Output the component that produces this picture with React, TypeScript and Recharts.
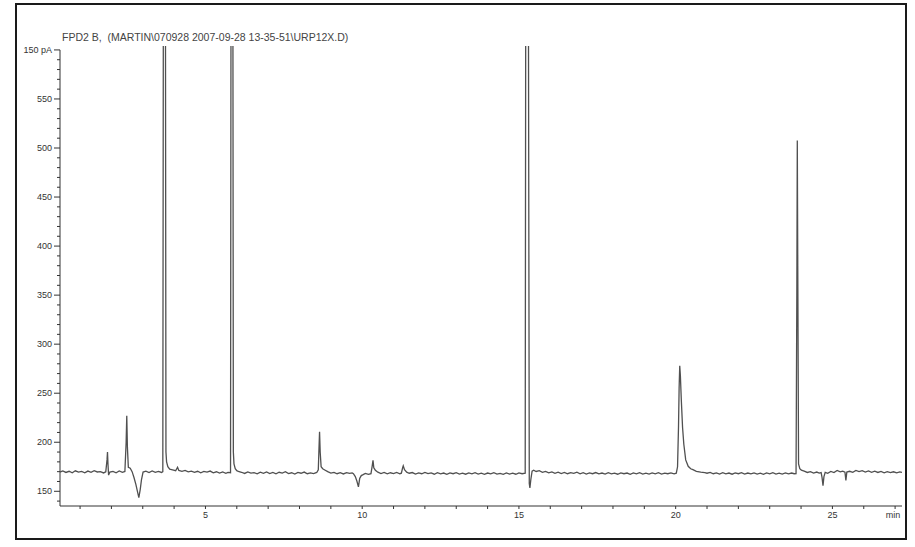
import { LineChart, Line, XAxis, YAxis, ReferenceLine } from 'recharts';

// retention time (min), signal (pA), one array per stretch of the run
const traceStart: [number, number][] = [
  [0.36, 169.6], [0.45, 170.8], [0.55, 169.2], [0.65, 170.4], [0.75, 168.9], [0.85, 170.9],
  [0.95, 169.5], [1.05, 170.2], [1.15, 168.8], [1.25, 170.6], [1.35, 169.3], [1.45, 171.0],
  [1.55, 169.7], [1.65, 170.1], [1.75, 168.7], [1.82, 169.9], [1.86, 182], [1.875, 190],
  [1.89, 178], [1.91, 166.5], [1.95, 169.5], [2.05, 170.3], [2.15, 168.9], [2.25, 170.7],
  [2.35, 169.4], [2.43, 170.2], [2.47, 200], [2.49, 227], [2.51, 195], [2.54, 174.5],
  [2.6, 173.5], [2.66, 170], [2.72, 164], [2.78, 157], [2.83, 150], [2.875, 143.5],
  [2.92, 152], [2.96, 162], [3.01, 169.6], [3.1, 170.5], [3.2, 169.1], [3.3, 170.8],
  [3.4, 169.4], [3.5, 170.3], [3.6, 169.2],
];

// first off-scale peak and its tail
const traceFirstMax: [number, number][] = [
  [3.64, 170], [3.69, 1600], [3.74, 190], [3.76, 180], [3.8, 175], [3.86, 172.5],
  [3.95, 171.8], [4.05, 171], [4.11, 174.5], [4.15, 171.2], [4.25, 170.4], [4.35, 171.3],
  [4.45, 169.8], [4.55, 170.6], [4.65, 169.3], [4.75, 170.4], [4.85, 168.9], [4.95, 170.2],
  [5.05, 169.5], [5.15, 170.6], [5.25, 168.8], [5.35, 169.9], [5.45, 168.5], [5.55, 169.7],
  [5.65, 168.4], [5.72, 169.3], [5.8, 169],
];

// second off-scale peak, 8.6 peak, 9.9 dip, small peaks at 10.3 and 11.3
const traceMiddle: [number, number][] = [
  [5.845, 1600], [5.89, 190], [5.91, 178], [5.95, 173], [6.0, 171], [6.05, 170.2],
  [6.15, 169.4], [6.25, 168.2], [6.35, 169.8], [6.45, 168.5], [6.55, 169.1], [6.65, 167.8],
  [6.75, 169.5], [6.85, 168.3], [6.95, 169.7], [7.05, 168.1], [7.15, 169.2], [7.25, 167.9],
  [7.35, 169.4], [7.45, 168.6], [7.55, 169.9], [7.65, 168.0], [7.75, 168.9], [7.85, 167.6],
  [7.95, 169.3], [8.05, 168.4], [8.15, 169.6], [8.25, 167.9], [8.35, 168.8], [8.45, 168.1],
  [8.55, 169.2], [8.6, 172], [8.62, 192], [8.64, 210.6], [8.66, 190], [8.69, 175],
  [8.74, 173], [8.82, 171.5], [8.9, 170], [9.0, 168.6], [9.1, 169.3], [9.2, 167.9],
  [9.3, 168.9], [9.4, 167.7], [9.5, 169.0], [9.6, 168.2], [9.68, 168.8], [9.72, 168],
  [9.78, 165], [9.83, 160.5], [9.88, 154.5], [9.92, 163], [9.97, 166], [10.03, 167],
  [10.1, 168.3], [10.2, 167.2], [10.28, 168], [10.32, 176], [10.345, 181.6], [10.37, 174],
  [10.42, 171.5], [10.5, 169.5], [10.6, 168.1], [10.7, 169.2], [10.8, 167.8], [10.9, 168.9],
  [11.0, 168.0], [11.1, 169.3], [11.2, 167.9], [11.25, 168.5], [11.29, 174], [11.31, 176],
  [11.35, 172], [11.42, 169.5],
];

// flat stretch and the third off-scale peak with its dip
const traceThirdMax: [number, number][] = [
  [11.5, 168.4], [11.6, 169.1], [11.7, 167.6], [11.8, 168.8], [11.9, 167.9], [12.0, 169.2],
  [12.1, 168.0], [12.2, 168.7], [12.3, 167.4], [12.4, 168.9], [12.5, 167.8], [12.6, 168.6],
  [12.7, 167.3], [12.8, 168.8], [12.9, 167.9], [13.0, 169.0], [13.1, 167.6], [13.2, 168.5],
  [13.3, 167.4], [13.4, 168.7], [13.5, 167.8], [13.6, 168.9], [13.7, 167.5], [13.8, 168.4],
  [13.9, 167.3], [14.0, 168.6], [14.1, 167.7], [14.2, 168.9], [14.3, 167.5], [14.4, 168.3],
  [14.5, 167.2], [14.6, 168.7], [14.7, 167.6], [14.8, 168.5], [14.9, 167.4], [15.0, 168.8],
  [15.1, 167.9], [15.2, 168.5], [15.25, 1600], [15.33, 158], [15.35, 153.5], [15.38, 162],
  [15.42, 170.5], [15.47, 171.5],
];

// flat stretch and the 20.1 peak
const traceLate: [number, number][] = [
  [15.55, 170.2], [15.65, 171.0], [15.75, 169.4], [15.85, 170.3], [15.95, 168.9], [16.05, 169.8],
  [16.15, 168.4], [16.25, 169.5], [16.35, 168.1], [16.45, 169.2], [16.55, 167.9], [16.65, 169.0],
  [16.75, 168.2], [16.85, 169.4], [16.95, 167.8], [17.05, 168.9], [17.15, 167.6], [17.25, 168.7],
  [17.35, 167.9], [17.45, 169.1], [17.55, 167.7], [17.65, 168.6], [17.75, 167.5], [17.85, 168.9],
  [17.95, 167.8], [18.05, 168.5], [18.15, 167.4], [18.25, 168.8], [18.35, 167.9], [18.45, 168.6],
  [18.55, 167.3], [18.65, 168.7], [18.75, 167.8], [18.85, 168.9], [18.95, 167.6], [19.05, 168.4],
  [19.15, 167.5], [19.25, 168.8], [19.35, 167.7], [19.45, 168.9], [19.55, 167.6], [19.65, 168.5],
  [19.75, 167.9], [19.85, 168.7], [19.95, 167.8], [20.02, 168.5], [20.06, 175], [20.09, 215],
  [20.11, 255], [20.13, 278], [20.15, 268], [20.18, 243], [20.22, 215], [20.26, 198],
  [20.32, 182], [20.4, 175.5], [20.48, 173], [20.55, 172], [20.66, 170.3], [20.8, 169.5],
  [20.93, 169],
];

// 23.9 peak, dips at 24.7 and 25.4, end of run
const traceEnd: [number, number][] = [
  [21.0, 168.4], [21.1, 169.3], [21.2, 167.9], [21.3, 168.8], [21.4, 167.6], [21.5, 168.9],
  [21.6, 167.8], [21.7, 168.6], [21.8, 167.4], [21.9, 168.7], [22.0, 167.9], [22.1, 168.9],
  [22.2, 167.5], [22.3, 168.6], [22.4, 167.7], [22.5, 168.8], [22.6, 167.6], [22.7, 168.5],
  [22.8, 167.3], [22.9, 168.7], [23.0, 167.8], [23.1, 168.9], [23.2, 167.6], [23.3, 168.4],
  [23.4, 167.5], [23.5, 168.8], [23.6, 167.7], [23.7, 168.6], [23.78, 167.9], [23.84, 168],
  [23.865, 350], [23.88, 507.7], [23.895, 380], [23.92, 178], [23.96, 173], [24.01, 171.5],
  [24.1, 170.5], [24.2, 169.2], [24.3, 170.1], [24.4, 168.6], [24.5, 169.6], [24.58, 168.5],
  [24.64, 169], [24.67, 164], [24.7, 155.8], [24.73, 165], [24.77, 169.3], [24.85, 168.4],
  [24.95, 170.2], [25.05, 169.1], [25.15, 171.3], [25.25, 169.8], [25.33, 170.6], [25.4, 169.5],
  [25.43, 161.2], [25.46, 169.6], [25.55, 170.4], [25.65, 169.3], [25.75, 171.2], [25.85, 170.1],
  [25.95, 171.0], [26.05, 169.6], [26.15, 170.7], [26.25, 169.4], [26.35, 170.5], [26.45, 169.2],
  [26.55, 170.3], [26.65, 168.9], [26.75, 170.1], [26.85, 169.0], [26.95, 169.9], [27.05, 168.8],
  [27.15, 169.7], [27.22, 169.2],
];

const xTicks = [1, 2, 3, 4, 5, 6, 7, 8, 9, 10, 11, 12, 13, 14, 15, 16, 17, 18, 19, 20, 21, 22, 23, 24, 25, 26, 27];
const yTicks = [140, 150, 160, 170, 180, 190, 200, 210, 220, 230, 240, 250, 260, 270, 280, 290, 300, 310, 320, 330, 340, 350, 360, 370, 380, 390, 400, 410, 420, 430, 440, 450, 460, 470, 480, 490, 500, 510, 520, 530, 540, 550, 560, 570, 580, 590, 600];
const xLabels: Record<number, string> = { 5: '5', 10: '10', 15: '15', 20: '20', 25: '25', 27: 'min' };
const yLabels: Record<number, string> = {
  150: '150', 200: '200', 250: '250', 300: '300', 350: '350', 400: '400', 450: '450', 500: '500', 550: '550', 600: '150 pA',
};
const title = 'FPD2 B,  (MARTIN\\070928 2007-09-28 13-35-51\\URP12X.D)';

const X_MIN = 0.36;
const X_MAX = 27.22;
const Y_MIN = 135;
const Y_MAX = 604;

const font = '"Liberation Sans", Arial, sans-serif';
const axisColor = '#333';

function YTick({ x, y, payload }: any) {
  const v = payload.value as number;
  const major = v % 50 === 0;
  return (
    <g>
      <line x1={x - (major ? 6 : 3)} x2={x} y1={y} y2={y} stroke={axisColor} strokeWidth={1} />
      <text x={x - 8} y={y} dy={3.2} textAnchor="end" fontSize={9} fontFamily={font} fill="#333">
        {yLabels[v] ?? ''}
      </text>
    </g>
  );
}

function XTick({ x, y, payload }: any) {
  const v = payload.value as number;
  return (
    <g>
      <line x1={x} x2={x} y1={y} y2={y + 3} stroke={axisColor} strokeWidth={1} />
      <text x={v === 27 ? x - 2 : x} y={y + 12} textAnchor="middle" fontSize={9} fontFamily={font} fill="#333">
        {xLabels[v] ?? ''}
      </text>
    </g>
  );
}

export default function App() {
  const data = [...traceStart, ...traceFirstMax, ...traceMiddle, ...traceThirdMax, ...traceLate, ...traceEnd].map(
    ([t, v]) => ({ t, v })
  );

  return (
    <div style={{ position: 'absolute', left: 0, top: 0, width: 915, height: 547, background: '#fff' }}>
      <div
        style={{
          position: 'absolute',
          left: 15,
          top: 3,
          width: 892,
          height: 537,
          border: '2px solid #1a1a1a',
          boxSizing: 'border-box',
        }}
      />
      <div
        style={{
          position: 'absolute',
          left: 62,
          top: 31,
          fontFamily: font,
          fontSize: 10.5,
          color: '#444',
          whiteSpace: 'pre',
        }}
      >
        {title}
      </div>
      <div style={{ position: 'absolute', left: 0, top: 0 }}>
        <LineChart width={915} height={547} data={data} margin={{ top: 46, right: 13, left: 0, bottom: 0 }}>
          <XAxis
            dataKey="t"
            type="number"
            domain={[X_MIN, X_MAX]}
            allowDataOverflow
            ticks={xTicks}
            interval={0}
            height={41}
            tickSize={0}
            tickMargin={0}
            tick={<XTick />}
            axisLine={{ stroke: axisColor }}
            tickLine={false}
          />
          <YAxis
            type="number"
            domain={[Y_MIN, Y_MAX]}
            allowDataOverflow
            ticks={yTicks}
            interval={0}
            width={60}
            tickSize={0}
            tickMargin={0}
            tick={<YTick />}
            axisLine={false}
            tickLine={false}
          />
          <ReferenceLine
            segment={[
              { x: X_MIN, y: Y_MIN },
              { x: X_MIN, y: 600 },
            ]}
            stroke={axisColor}
            strokeWidth={1}
          />
          <Line
            type="linear"
            dataKey="v"
            stroke="#505050"
            strokeWidth={1.3}
            dot={false}
            isAnimationActive={false}
          />
        </LineChart>
      </div>
    </div>
  );
}
